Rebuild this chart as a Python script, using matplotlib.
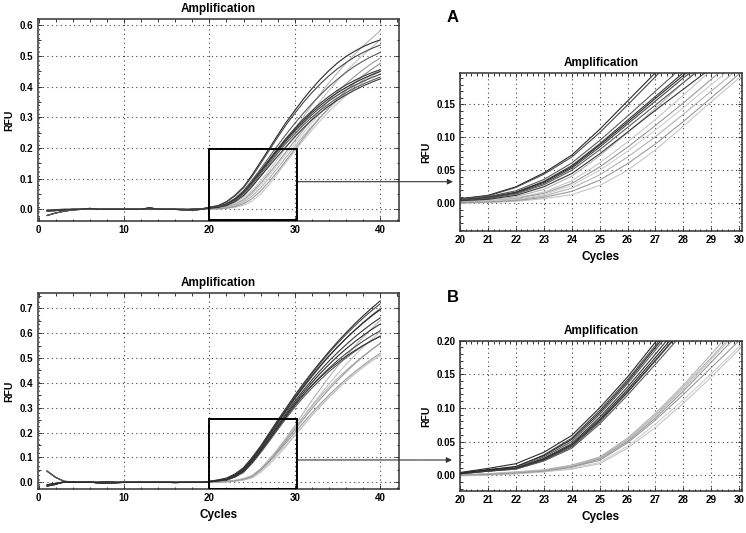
import matplotlib
matplotlib.use("Agg")
import matplotlib.pyplot as plt
from matplotlib.patches import Rectangle
from matplotlib.ticker import MultipleLocator, FormatStrFormatter

plt.rcParams['font.family'] = ['Liberation Sans', 'DejaVu Sans']
plt.rcParams['font.weight'] = 'bold'

# cycles 1..19 (baseline) and 20..40 (amplification phase)
cycles_early = list(range(1, 20))
cycles_late = list(range(20, 41))

# baseline readings, cycles 1..19
base_a1 = [-0.020, -0.012, -0.006, -0.002, 0.000, 0.001, 0.000, 0.000, 0.000, 0.000,
           0.000, 0.000, 0.002, 0.001, 0.000, 0.000, 0.000, 0.000, 0.001]
base_a2 = [-0.005, -0.004, -0.002, 0.000, 0.000, 0.003, 0.000, 0.000, 0.000, 0.000,
           0.000, 0.000, 0.005, 0.000, 0.000, 0.000, -0.002, 0.000, 0.000]
base_a3 = [-0.003, -0.001, 0.000, 0.000, 0.000, 0.000, 0.000, 0.000, 0.000, 0.000,
           0.000, 0.000, 0.000, 0.000, 0.000, 0.000, 0.000, -0.004, 0.000]
base_b1 = [0.045, 0.020, 0.004, 0.002, 0.001, 0.000, 0.000, 0.000, 0.000, 0.000,
           0.000, 0.000, 0.000, 0.000, 0.000, 0.000, 0.000, 0.000, 0.000]
base_b2 = [-0.015, -0.008, 0.003, 0.003, 0.000, 0.002, -0.003, -0.003, -0.002, 0.000,
           0.000, 0.000, 0.000, 0.000, 0.000, -0.001, 0.000, 0.000, 0.000]
base_b3 = [-0.010, -0.004, 0.000, 0.000, 0.000, 0.000, 0.000, 0.002, 0.000, 0.000,
           0.000, 0.000, 0.000, 0.000, 0.000, 0.000, 0.000, 0.000, 0.000]

# experiment A, cycles 20..40
a_d1 = [0.007, 0.012, 0.025, 0.046, 0.073, 0.112, 0.155, 0.198, 0.242, 0.284, 0.322,
        0.359, 0.393, 0.424, 0.452, 0.477, 0.498, 0.515, 0.530, 0.542, 0.552]
a_d2 = [0.007, 0.011, 0.024, 0.044, 0.070, 0.107, 0.149, 0.192, 0.235, 0.276, 0.313,
        0.348, 0.380, 0.409, 0.435, 0.458, 0.478, 0.496, 0.511, 0.524, 0.535]
a_d3 = [0.006, 0.010, 0.019, 0.036, 0.061, 0.095, 0.132, 0.170, 0.208, 0.245, 0.280,
        0.313, 0.344, 0.373, 0.400, 0.424, 0.446, 0.466, 0.483, 0.498, 0.511]
a_d4 = [0.005, 0.009, 0.017, 0.033, 0.057, 0.090, 0.126, 0.162, 0.198, 0.232, 0.264,
        0.294, 0.321, 0.346, 0.368, 0.388, 0.405, 0.420, 0.433, 0.445, 0.455]
a_d5 = [0.005, 0.008, 0.016, 0.032, 0.055, 0.088, 0.123, 0.159, 0.194, 0.228, 0.259,
        0.288, 0.315, 0.339, 0.361, 0.380, 0.397, 0.412, 0.426, 0.438, 0.449]
a_d6 = [0.005, 0.008, 0.015, 0.030, 0.053, 0.085, 0.120, 0.155, 0.190, 0.223, 0.254,
        0.282, 0.308, 0.332, 0.353, 0.372, 0.389, 0.404, 0.417, 0.429, 0.440]
a_d7 = [0.004, 0.007, 0.014, 0.028, 0.050, 0.081, 0.115, 0.149, 0.183, 0.216, 0.246,
        0.274, 0.300, 0.323, 0.344, 0.363, 0.380, 0.395, 0.408, 0.420, 0.431]
a_d8 = [0.004, 0.006, 0.012, 0.025, 0.045, 0.075, 0.108, 0.141, 0.173, 0.205, 0.236,
        0.265, 0.291, 0.315, 0.337, 0.356, 0.373, 0.388, 0.402, 0.414, 0.425]
a_l1 = [0.003, 0.005, 0.010, 0.021, 0.041, 0.072, 0.107, 0.144, 0.183, 0.222, 0.261,
        0.301, 0.340, 0.377, 0.412, 0.445, 0.476, 0.505, 0.532, 0.557, 0.582]
a_l2 = [0.002, 0.004, 0.008, 0.017, 0.034, 0.061, 0.093, 0.127, 0.164, 0.202, 0.240,
        0.279, 0.317, 0.353, 0.387, 0.419, 0.449, 0.477, 0.503, 0.527, 0.552]
a_l3 = [0.002, 0.003, 0.007, 0.015, 0.030, 0.055, 0.085, 0.118, 0.152, 0.188, 0.224,
        0.259, 0.293, 0.325, 0.355, 0.383, 0.409, 0.433, 0.455, 0.475, 0.493]
a_l4 = [0.001, 0.003, 0.006, 0.013, 0.027, 0.050, 0.079, 0.111, 0.145, 0.180, 0.215,
        0.249, 0.282, 0.313, 0.342, 0.369, 0.394, 0.417, 0.438, 0.457, 0.475]
a_l5 = [0.001, 0.002, 0.005, 0.011, 0.023, 0.043, 0.070, 0.101, 0.135, 0.170, 0.205,
        0.239, 0.271, 0.301, 0.329, 0.355, 0.379, 0.401, 0.421, 0.439, 0.455]
a_l6 = [0.000, 0.001, 0.003, 0.007, 0.013, 0.027, 0.050, 0.081, 0.117, 0.154, 0.190,
        0.225, 0.258, 0.289, 0.318, 0.345, 0.370, 0.393, 0.414, 0.433, 0.450]
a_l7 = [0.001, 0.002, 0.004, 0.009, 0.018, 0.035, 0.060, 0.090, 0.124, 0.160, 0.196,
        0.232, 0.267, 0.300, 0.331, 0.360, 0.387, 0.412, 0.435, 0.456, 0.475]

# experiment B, cycles 20..40
b_d1 = [0.004, 0.010, 0.017, 0.034, 0.059, 0.100, 0.146, 0.198, 0.250, 0.300, 0.350,
        0.397, 0.442, 0.485, 0.526, 0.565, 0.602, 0.637, 0.670, 0.701, 0.730]
b_d2 = [0.003, 0.008, 0.012, 0.030, 0.055, 0.096, 0.142, 0.193, 0.245, 0.296, 0.345,
        0.392, 0.437, 0.480, 0.521, 0.559, 0.595, 0.629, 0.661, 0.691, 0.718]
b_d3 = [0.003, 0.008, 0.011, 0.027, 0.050, 0.090, 0.136, 0.186, 0.237, 0.287, 0.335,
        0.381, 0.425, 0.467, 0.507, 0.544, 0.579, 0.612, 0.643, 0.672, 0.699]
b_d4 = [0.003, 0.007, 0.010, 0.025, 0.047, 0.086, 0.131, 0.180, 0.230, 0.279, 0.326,
        0.370, 0.412, 0.451, 0.488, 0.522, 0.554, 0.584, 0.612, 0.638, 0.662]
b_d5 = [0.003, 0.007, 0.010, 0.024, 0.045, 0.083, 0.127, 0.175, 0.224, 0.272, 0.318,
        0.361, 0.401, 0.439, 0.474, 0.507, 0.537, 0.565, 0.591, 0.615, 0.637]
b_d6 = [0.002, 0.006, 0.009, 0.022, 0.042, 0.079, 0.123, 0.170, 0.218, 0.265, 0.310,
        0.351, 0.390, 0.426, 0.459, 0.490, 0.518, 0.544, 0.568, 0.590, 0.610]
b_d7 = [0.002, 0.006, 0.009, 0.021, 0.040, 0.076, 0.119, 0.165, 0.212, 0.258, 0.302,
        0.342, 0.379, 0.413, 0.445, 0.474, 0.501, 0.526, 0.549, 0.570, 0.589]
b_d8 = [0.002, 0.006, 0.010, 0.023, 0.044, 0.081, 0.124, 0.171, 0.219, 0.266, 0.311,
        0.352, 0.389, 0.423, 0.454, 0.482, 0.507, 0.530, 0.551, 0.570, 0.587]
b_d9 = [0.003, 0.008, 0.013, 0.029, 0.053, 0.093, 0.139, 0.190, 0.241, 0.291, 0.339,
        0.385, 0.429, 0.470, 0.509, 0.545, 0.579, 0.611, 0.641, 0.669, 0.695]
b_l1 = [0.001, 0.002, 0.005, 0.008, 0.015, 0.027, 0.055, 0.092, 0.134, 0.180, 0.228,
        0.279, 0.329, 0.377, 0.423, 0.467, 0.508, 0.547, 0.584, 0.619, 0.652]
b_l2 = [0.000, 0.001, 0.004, 0.007, 0.013, 0.025, 0.052, 0.088, 0.128, 0.172, 0.217,
        0.264, 0.310, 0.354, 0.396, 0.436, 0.474, 0.510, 0.544, 0.576, 0.606]
b_l3 = [0.000, 0.001, 0.003, 0.006, 0.012, 0.022, 0.048, 0.082, 0.120, 0.160, 0.200,
        0.240, 0.279, 0.316, 0.351, 0.384, 0.415, 0.444, 0.471, 0.496, 0.519]
b_l4 = [-0.001, 0.001, 0.002, 0.005, 0.010, 0.019, 0.043, 0.076, 0.112, 0.151, 0.191,
        0.231, 0.270, 0.307, 0.342, 0.375, 0.406, 0.435, 0.462, 0.487, 0.510]
b_l5 = [0.000, 0.002, 0.004, 0.007, 0.014, 0.026, 0.053, 0.089, 0.131, 0.175, 0.220,
        0.264, 0.306, 0.346, 0.383, 0.418, 0.450, 0.480, 0.508, 0.534, 0.558]
b_l6 = [-0.001, 0.000, 0.002, 0.005, 0.009, 0.017, 0.040, 0.071, 0.107, 0.146, 0.187,
        0.228, 0.268, 0.306, 0.342, 0.376, 0.408, 0.438, 0.466, 0.492, 0.516]
b_l7 = [0.000, 0.001, 0.003, 0.006, 0.012, 0.024, 0.050, 0.085, 0.125, 0.168, 0.211,
        0.254, 0.296, 0.336, 0.374, 0.410, 0.444, 0.476, 0.506, 0.534, 0.560]

a_dark = [a_d1, a_d2, a_d3, a_d4, a_d5, a_d6, a_d7, a_d8]
a_light = [a_l1, a_l2, a_l3, a_l4, a_l5, a_l6, a_l7]
b_dark = [b_d1, b_d2, b_d3, b_d4, b_d5, b_d6, b_d7, b_d8, b_d9]
b_light = [b_l1, b_l2, b_l3, b_l4, b_l5, b_l6, b_l7]
a_bases = [base_a1, base_a2, base_a3]
b_bases = [base_b1, base_b2, base_b3]

dark_colors = ['#2b2b2b', '#474747', '#5c5c5c', '#383838']
light_colors = ['#b4b4b4', '#c6c6c6', '#9a9a9a', '#cfcfcf']

W, H = 746, 533


def px_rect(left, top, right, bottom):
    # pixel box in the picture -> figure fraction
    return [left / W, 1 - bottom / H, (right - left) / W, (bottom - top) / H]


def draw_curves(ax, dark, light, bases):
    # light curves first so the dark ones sit on top
    for i, vals in enumerate(light):
        ys = bases[(i + 1) % len(bases)] + vals
        ax.plot(cycles_early + cycles_late, ys, color=light_colors[i % 4], lw=0.8)
    for i, vals in enumerate(dark):
        ys = bases[i % len(bases)] + vals
        ax.plot(cycles_early + cycles_late, ys, color=dark_colors[i % 4], lw=0.8)


def style_axes(ax, xmajor, xminor, ymajor, yminor, yfmt):
    ax.xaxis.set_major_locator(MultipleLocator(xmajor))
    ax.xaxis.set_minor_locator(MultipleLocator(xminor))
    ax.yaxis.set_major_locator(MultipleLocator(ymajor))
    ax.yaxis.set_minor_locator(MultipleLocator(yminor))
    ax.yaxis.set_major_formatter(FormatStrFormatter(yfmt))
    ax.tick_params(which='both', direction='in', top=True, right=True,
                   color='#333333', width=0.7, labelsize=7, pad=3)
    ax.tick_params(which='major', length=3)
    ax.tick_params(which='minor', length=1.8)
    for s in ax.spines.values():
        s.set_color('#333333')
        s.set_linewidth(1.1)
    ax.grid(True, which='major', linestyle=(0, (1, 3)), color='#444444', lw=0.8)
    ax.set_axisbelow(True)
    ax.set_title('Amplification', fontsize=8.5, fontweight='bold', pad=5)
    ax.set_ylabel('RFU', fontsize=7.5, fontweight='bold')
    ax.set_xlabel('Cycles', fontsize=8.5, fontweight='bold', labelpad=4)


fig = plt.figure(figsize=(7.46, 5.33), dpi=100)

ax_a = fig.add_axes(px_rect(37.7, 19, 399, 221))
ax_az = fig.add_axes(px_rect(460, 72.7, 742, 231))
ax_b = fig.add_axes(px_rect(37.7, 292.7, 399, 489.3))
ax_bz = fig.add_axes(px_rect(460, 340.7, 742, 491.3))

draw_curves(ax_a, a_dark, a_light, a_bases)
draw_curves(ax_az, a_dark, a_light, a_bases)
draw_curves(ax_b, b_dark, b_light, b_bases)
draw_curves(ax_bz, b_dark, b_light, b_bases)

ax_a.set_xlim(-0.1, 42.2)
ax_a.set_ylim(-0.038, 0.62)
style_axes(ax_a, 10, 2, 0.1, 0.05, '%.1f')

ax_b.set_xlim(-0.1, 42.2)
ax_b.set_ylim(-0.028, 0.763)
style_axes(ax_b, 10, 2, 0.1, 0.05, '%.1f')

ax_az.set_xlim(20, 30.1)
ax_az.set_ylim(-0.042, 0.198)
style_axes(ax_az, 1, 0.2, 0.05, 0.01, '%.2f')

ax_bz.set_xlim(20, 30.1)
ax_bz.set_ylim(-0.024, 0.20)
style_axes(ax_bz, 1, 0.2, 0.05, 0.01, '%.2f')

# the last tick label sits right on the picture edge
for ax in (ax_az, ax_bz):
    ax.get_xticklabels()[-1].set_horizontalalignment('right')

ax_a.xaxis.label.set_visible(False)

# zoom boxes and arrows
ax_a.add_patch(Rectangle((20, -0.035), 10.2, 0.231, fill=False, ec='black', lw=1.4, zorder=5))
ax_b.add_patch(Rectangle((20, -0.027), 10.2, 0.282, fill=False, ec='black', lw=1.4, zorder=5))

arrow = dict(arrowstyle='-|>', color='#333333', lw=0.8, mutation_scale=8,
             shrinkA=0, shrinkB=0)
ax_a.annotate('', xy=(453 / W, 1 - 181.7 / H), xycoords='figure fraction',
              xytext=(30.2, 0.09), textcoords='data', arrowprops=arrow,
              annotation_clip=False)
ax_b.annotate('', xy=(452 / W, 1 - 460 / H), xycoords='figure fraction',
              xytext=(30.2, 0.09), textcoords='data', arrowprops=arrow,
              annotation_clip=False)

fig.text(453 / W, 1 - 17 / H, 'A', fontsize=12, fontweight='bold', ha='center', va='center')
fig.text(453 / W, 1 - 297 / H, 'B', fontsize=12, fontweight='bold', ha='center', va='center')

fig.savefig('out.png', dpi=100)
